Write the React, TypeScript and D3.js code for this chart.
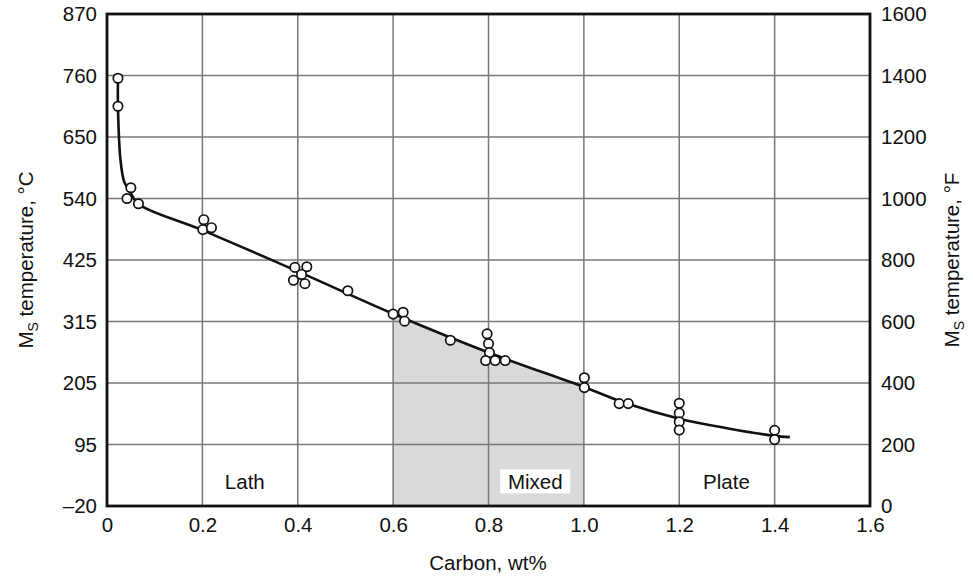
import React, { useEffect, useRef } from 'react';
import * as d3 from 'd3';

// measured points, carbon wt% vs Ms in degF
const carbon = [0.023, 0.023, 0.05, 0.042, 0.066, 0.203, 0.201, 0.219, 0.394, 0.419, 0.408, 0.391, 0.415, 0.505,
  0.6, 0.621, 0.624, 0.72, 0.797, 0.8, 0.802, 0.794, 0.814, 0.835, 1.001, 1.001, 1.074, 1.093, 1.2, 1.2, 1.2, 1.2, 1.4, 1.4];
const msF = [1391, 1300, 1035, 1000, 983, 931, 899, 905, 776, 778, 753, 734, 723, 700,
  624, 630, 601, 539, 560, 528, 499, 473, 473, 473, 417, 385, 333, 333, 334, 302, 274, 247, 246, 216];

// fitted curve
const curveC = [0.023, 0.023, 0.028, 0.036, 0.049, 0.065, 0.2, 0.4, 0.6, 0.8, 1.0, 1.09, 1.2, 1.3, 1.4, 1.432];
const curveF = [1391, 1300, 1130, 1055, 1020, 983, 897, 763, 625, 499, 387, 333, 284, 253, 228, 224];

const xTicks = [0, 0.2, 0.4, 0.6, 0.8, 1.0, 1.2, 1.4, 1.6];
const fTicks = [0, 200, 400, 600, 800, 1000, 1200, 1400, 1600];
const cLabels = ['\u201320', '95', '205', '315', '425', '540', '650', '760', '870'];

const regionNames = ['Lath', 'Mixed', 'Plate'];
const regionAt = [0.289, 0.898, 1.299];
const mixedRange = [0.6, 1.0];

const FONT = '"Liberation Sans", Arial, sans-serif';
const FS = 20.5;

export default function App() {
  const ref = useRef<SVGSVGElement>(null);

  useEffect(() => {
    const w = 973, h = 577;
    const margin = { top: 14, right: 103, bottom: 71, left: 107 };
    const svg = d3.select(ref.current);
    svg.selectAll('*').remove();

    const x = d3.scaleLinear().domain([0, 1.6]).range([margin.left, w - margin.right]);
    const y = d3.scaleLinear().domain([0, 1600]).range([h - margin.bottom, margin.top]);

    svg.append('rect').attr('width', w).attr('height', h).attr('fill', '#fff');

    const curvePts: [number, number][] = curveC.map((c, i) => [c, curveF[i]]);

    // shaded mixed region under the curve
    svg.append('clipPath').attr('id', 'mixclip')
      .append('rect')
      .attr('x', x(mixedRange[0])).attr('y', y(1600))
      .attr('width', x(mixedRange[1]) - x(mixedRange[0]))
      .attr('height', y(0) - y(1600));

    const area = d3.area<[number, number]>()
      .x(d => x(d[0]))
      .y0(y(0))
      .y1(d => y(d[1]))
      .curve(d3.curveCatmullRom.alpha(0.5));

    svg.append('path')
      .datum(curvePts.slice(5))
      .attr('d', area)
      .attr('fill', '#d9d9d9')
      .attr('clip-path', 'url(#mixclip)');

    // grid
    const grid = svg.append('g').attr('stroke', '#777').attr('stroke-width', 1.5);
    grid.selectAll('.vx').data(xTicks.slice(1, -1)).join('line')
      .attr('x1', d => x(d)).attr('x2', d => x(d))
      .attr('y1', y(0)).attr('y2', y(1600));
    grid.selectAll('.hy').data(fTicks.slice(1, -1)).join('line')
      .attr('y1', d => y(d)).attr('y2', d => y(d))
      .attr('x1', x(0)).attr('x2', x(1.6));

    // region labels
    const labels = svg.append('g').attr('font-family', FONT).attr('font-size', FS).attr('fill', '#111');
    regionNames.forEach((name, i) => {
      const cx = x(regionAt[i]);
      const cy = y(80);
      if (name === 'Mixed') {
        labels.append('rect')
          .attr('x', cx - 35).attr('y', cy - 12)
          .attr('width', 70).attr('height', 24)
          .attr('fill', '#fff');
      }
      labels.append('text')
        .attr('x', cx).attr('y', cy + 7.5)
        .attr('text-anchor', 'middle')
        .text(name);
    });

    // curve
    const line = d3.line<[number, number]>()
      .x(d => x(d[0]))
      .y(d => y(d[1]))
      .curve(d3.curveCatmullRom.alpha(0.5));

    svg.append('path')
      .datum(curvePts)
      .attr('d', line)
      .attr('fill', 'none')
      .attr('stroke', '#111')
      .attr('stroke-width', 2.6);

    // data points
    svg.append('g').selectAll('circle')
      .data(carbon.map((c, i) => [c, msF[i]]))
      .join('circle')
      .attr('cx', d => x(d[0]))
      .attr('cy', d => y(d[1]))
      .attr('r', 4.7)
      .attr('fill', '#fff')
      .attr('stroke', '#111')
      .attr('stroke-width', 1.7);

    // frame
    svg.append('rect')
      .attr('x', x(0)).attr('y', y(1600))
      .attr('width', x(1.6) - x(0)).attr('height', y(0) - y(1600))
      .attr('fill', 'none')
      .attr('stroke', '#111')
      .attr('stroke-width', 2.8);

    const styleAxis = (g: d3.Selection<SVGGElement, unknown, null, undefined>) => {
      g.select('.domain').remove();
      g.selectAll('text').attr('font-family', FONT).attr('font-size', FS).attr('fill', '#111');
    };

    svg.append('g')
      .attr('transform', `translate(0,${y(0)})`)
      .call(d3.axisBottom(x).tickValues(xTicks).tickSize(0).tickPadding(11)
        .tickFormat(d => (d === 0 ? '0' : d3.format('.1f')(d as number))))
      .call(styleAxis);

    svg.append('g')
      .attr('transform', `translate(${x(0)},0)`)
      .call(d3.axisLeft(y).tickValues(fTicks).tickSize(0).tickPadding(10)
        .tickFormat((d, i) => cLabels[i]))
      .call(styleAxis);

    svg.append('g')
      .attr('transform', `translate(${x(1.6)},0)`)
      .call(d3.axisRight(y).tickValues(fTicks).tickSize(0).tickPadding(11).tickFormat(d3.format('d')))
      .call(styleAxis);

    // titles
    svg.append('text')
      .attr('x', 488).attr('y', 570)
      .attr('text-anchor', 'middle')
      .attr('font-family', FONT).attr('font-size', FS).attr('fill', '#111')
      .text('Carbon, wt%');

    const yTitle = (tx: number, unit: string) => {
      const t = svg.append('text')
        .attr('transform', `translate(${tx},${260}) rotate(-90)`)
        .attr('text-anchor', 'middle')
        .attr('font-family', FONT).attr('font-size', FS).attr('fill', '#111');
      t.append('tspan').text('M');
      t.append('tspan').attr('font-size', 14).attr('dy', 5).text('S');
      t.append('tspan').attr('dy', -5).text(` temperature, \u00b0${unit}`);
    };
    yTitle(33, 'C');
    yTitle(959, 'F');
  }, []);

  return (
    <svg ref={ref} width={973} height={577}
      style={{ position: 'absolute', left: 0, top: 0, display: 'block' }} />
  );
}
